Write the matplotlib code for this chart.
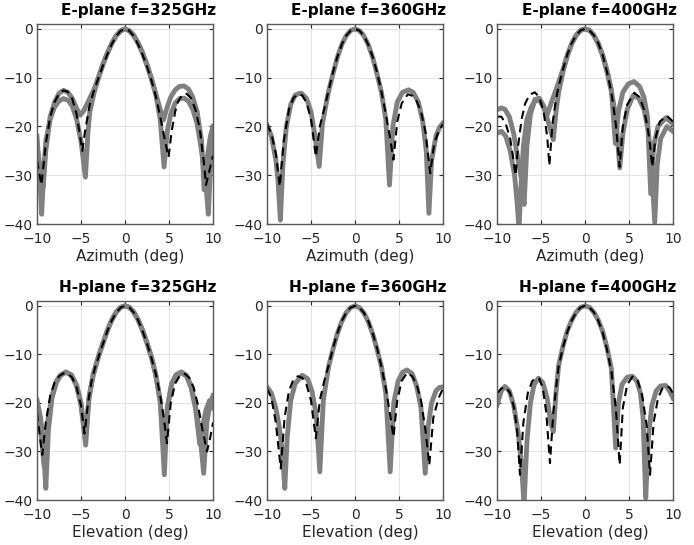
import numpy as np
import matplotlib
matplotlib.use('Agg')
import matplotlib.pyplot as plt

# ---- E-plane 325 GHz ----
e325_sim_ang = [-10, -9.5, -9, -8.5, -8, -7.5, -7, -6.5, -6, -5.5, -5.2, -4.85, -4.5, -4, -3.5, -3,
                -2.5, -2, -1.5, -1, -0.5, 0, 0.5, 1, 1.5, 2, 2.5, 3, 3.5, 4, 4.5, 4.95, 5.3, 5.7,
                6, 6.5, 7, 7.5, 8, 8.5, 9, 9.2, 9.6, 10]
e325_sim = [-27, -32, -23.5, -18, -15, -13.3, -12.6, -12.9, -14.3, -17.5, -21, -25, -20.5, -15.5,
            -12.5, -10, -7.5, -5.2, -3.1, -1.5, -0.4, 0, -0.4, -1.5, -3.2, -5.3, -7.7, -10.5, -13.8,
            -18, -22.5, -26.3, -21, -17, -15, -13.5, -13.3, -14.2, -16.5, -20.5, -28, -32, -29, -26]
e325_m1_ang = [-10, -9.7, -9.47, -9.2, -9, -8.5, -8, -7.5, -7, -6.5, -6, -5.5, -5, -4.5, -4.2, -4,
               -3.5, -3, -2.5, -2, -1.5, -1, -0.5, 0, 0.5, 1, 1.5, 2, 2.5, 3, 3.5, 4, 4.44, 4.8,
               5.2, 5.7, 6.2, 6.7, 7.2, 7.7, 8.2, 8.7, 9.2, 9.47, 9.7, 10]
e325_m1 = [-22, -30, -38, -28, -23, -18.5, -16, -14.8, -14.3, -14.6, -15.8, -18.5, -23, -30.4, -21,
           -17, -13, -10, -7.3, -5, -3, -1.4, -0.4, 0, -0.4, -1.3, -2.9, -4.9, -7.3, -10.2, -13.5,
           -18.5, -28.3, -21, -17.5, -15.2, -14.3, -14.2, -14.8, -16.5, -19.5, -25, -32, -38, -29, -22]
e325_m2_ang = [-10, -9.6, -9.3, -9, -8.5, -8, -7.5, -7, -6.5, -6, -5.5, -5.1, -4.7, -4.2, -3.5, -3,
               -2.5, -2, -1.5, -1, -0.5, 0, 0.5, 1, 1.5, 2, 2.5, 3, 3.5, 4, 4.36, 4.8, 5.2, 5.7,
               6.2, 6.7, 7.2, 7.7, 8.2, 8.7, 9.0, 9.3, 9.7, 10]
e325_m2 = [-24, -29, -32.5, -25, -18, -15, -13.2, -12.6, -13, -14.2, -16.3, -17.7, -16.8, -15,
           -12.3, -9.8, -7.2, -4.9, -3, -1.4, -0.4, 0, -0.4, -1.4, -3, -5, -7.5, -10.2, -13.3,
           -16.5, -18.7, -16, -14, -12.5, -11.8, -11.7, -12.3, -14, -17, -23, -33, -27, -22, -20]

# ---- E-plane 360 GHz ----
e360_sim_ang = [-10, -9.5, -9, -8.55, -8.1, -7.5, -7, -6.5, -6, -5.5, -5, -4.45, -4, -3.5, -3, -2.5,
                -2, -1.5, -1, -0.5, 0, 0.5, 1, 1.5, 2, 2.5, 3, 3.5, 4, 4.37, 4.8, 5.3, 6, 6.5, 7,
                7.5, 8, 8.55, 9, 9.5, 10]
e360_sim = [-19.5, -21.5, -25.5, -32.3, -23, -16.5, -14.2, -13.4, -13.6, -15.2, -18.5, -26.2, -20,
            -16.5, -12.6, -8.9, -5.7, -3.2, -1.4, -0.35, 0, -0.35, -1.4, -3.2, -5.7, -8.9, -12.8,
            -17.5, -22.5, -26.8, -19, -15.3, -13.4, -13.7, -14.8, -17, -21, -29.6, -23.5, -21, -19.5]
e360_m1_ang = [-10, -9.5, -9, -8.75, -8.48, -8.2, -7.8, -7.3, -6.8, -6.3, -6.08, -5.5, -5, -4.5,
               -4.07, -3.7, -3.3, -3, -2.5, -2, -1.5, -1, -0.5, 0, 0.5, 1, 1.5, 2, 2.5, 3, 3.5,
               3.92, 4.3, 4.8, 5.4, 6.08, 6.6, 7.2, 7.7, 8.1, 8.4, 8.7, 9.2, 9.6, 10]
e360_m1 = [-19.7, -22, -26.8, -31, -39.2, -28, -20, -15.5, -13.6, -13.2, -13.2, -14.3, -17, -22.5,
           -28.2, -19.5, -15.5, -12.8, -9.2, -5.8, -3.2, -1.4, -0.35, 0, -0.35, -1.4, -3.2, -5.8,
           -9.2, -13, -18.5, -32, -20, -15, -13, -12.5, -13, -15, -19, -25, -37.8, -27, -22,
           -20.2, -19.3]

# ---- E-plane 400 GHz ----
e400_sim_ang = [-10, -9.5, -9, -8.5, -8.2, -7.9, -7.6, -7.2, -6.8, -6.3, -5.7, -5.2, -4.7, -4.3,
                -4.05, -3.7, -3.3, -3, -2.5, -2, -1.5, -1, -0.5, 0, 0.5, 1, 1.5, 2, 2.5, 3, 3.5,
                3.94, 4.3, 4.8, 5.6, 6.2, 6.7, 7.1, 7.4, 7.65, 8, 8.5, 9.3, 10]
e400_sim = [-18, -18, -19.5, -22.5, -26, -30, -24, -18.5, -15.3, -13.5, -13, -14, -17, -22, -28,
            -19.5, -14.5, -11.8, -8.3, -5.2, -2.9, -1.3, -0.3, 0, -0.3, -1.3, -2.9, -5.3, -8.8,
            -13, -19.5, -28.3, -20, -15.5, -13.1, -14, -16.5, -20, -24, -28.3, -22.5, -19, -17.8, -19]
e400_m1_ang = [-10, -9.5, -9, -8.5, -8, -7.7, -7.5, -7.3, -7.0, -6.6, -6.1, -5.6, -5.1, -4.6, -4.1,
               -3.6, -3.3, -3, -2.5, -2, -1.5, -1, -0.5, 0, 0.5, 1, 1.5, 2, 2.5, 3, 3.5, 3.95,
               4.3, 4.8, 5.5, 6.1, 6.7, 7.2, 7.6, 7.92, 8.2, 8.6, 9.3, 10]
e400_m1 = [-21.4, -21, -22, -25, -30, -36, -41, -33, -24, -18.5, -16, -14.6, -14.8, -16.5, -19.5,
           -22.7, -17, -13, -8.8, -5.5, -3, -1.3, -0.3, 0, -0.3, -1.3, -3, -5.5, -8.8, -12.8, -18,
           -28.5, -21.5, -16.5, -13.6, -14.2, -16.5, -21, -29, -39.7, -28, -22.5, -20, -21]
e400_m2_ang = [-10, -9.5, -9.1, -8.6, -8.1, -7.6, -7.2, -6.92, -6.6, -6.2, -5.7, -5.2, -4.7, -4.3,
               -3.9, -3.5, -3, -2.5, -2, -1.5, -1, -0.5, 0, 0.5, 1, 1.5, 2, 2.5, 3, 3.45, 3.8,
               4.3, 4.9, 5.57, 6.2, 6.7, 7.1, 7.47, 7.8, 8.3, 9.2, 10]
e400_m2 = [-16.6, -16.2, -16.5, -18, -21.5, -27, -31, -36, -24, -17.5, -14.5, -14.2, -15.8, -17.6,
           -15.5, -13.5, -11, -8.3, -5.3, -3, -1.3, -0.3, 0, -0.3, -1.3, -3, -5.3, -8.5, -12.5,
           -23.5, -17, -13, -11.3, -10.8, -11.8, -14, -18, -33.8, -24, -20, -18.2, -19.5]

# ---- H-plane 325 GHz ----
h325_sim_ang = [-10, -9.7, -9.4, -9.0, -8.5, -8, -7.5, -7, -6.5, -6, -5.5, -5.0, -4.6, -4.2, -3.8,
                -3.4, -3, -2.5, -2, -1.5, -1, -0.5, 0, 0.5, 1, 1.5, 2, 2.5, 3, 3.5, 4, 4.4, 4.77,
                5.2, 5.7, 6.3, 6.8, 7.3, 7.8, 8.3, 8.8, 9.32, 9.7, 10]
h325_sim = [-22, -26.5, -30.7, -24, -18.5, -15.8, -14.5, -13.9, -14, -14.8, -16.8, -20.5, -26.3,
            -20, -15.5, -12.7, -10.5, -7.8, -5.2, -3, -1.4, -0.35, 0, -0.35, -1.4, -3, -5.2, -7.8,
            -10.7, -14, -18.5, -23, -28.3, -20, -16, -14.2, -14, -14.8, -16.8, -20.5, -25.5, -30,
            -27, -24]
h325_m1_ang = [-10, -9.6, -9.3, -9.0, -8.7, -8.3, -7.8, -7.3, -6.7, -6.1, -5.5, -5.0, -4.47, -4.1,
               -3.6, -3, -2.5, -2, -1.5, -1, -0.5, 0, 0.5, 1, 1.5, 2, 2.5, 3, 3.5, 4, 4.47, 4.8,
               5.3, 5.8, 6.4, 7, 7.5, 8, 8.5, 8.94, 9.3, 9.7, 10]
h325_m1 = [-19.4, -23, -28, -37.6, -25.5, -19, -15.8, -14.3, -13.6, -14.2, -16.5, -20.5, -28.7,
           -19, -14, -10.3, -7.6, -5, -2.9, -1.3, -0.3, 0, -0.3, -1.3, -2.9, -5, -7.6, -10.5,
           -14.2, -19.5, -34.8, -21, -16, -14.2, -13.6, -14.3, -16.5, -20.5, -26, -34.5, -24,
           -20, -18.5]
h325_m2_ang = [-10, -9.6, -9.2, -8.8, -8.3, -7.8, -7.3, -6.7, -6.1, -5.5, -5.0, -4.5, -4.1, -3.6,
               -3, -2.5, -2, -1.5, -1, -0.5, 0, 0.5, 1, 1.5, 2, 2.5, 3, 3.5, 4, 4.5, 4.8, 5.3,
               5.8, 6.4, 7, 7.5, 8, 8.5, 8.8, 9.2, 9.6, 10]
h325_m2 = [-21, -25, -33, -24, -18.5, -15.5, -14.2, -13.7, -14.3, -16.3, -20, -27, -19, -14.2,
           -10.4, -7.7, -5.1, -2.9, -1.3, -0.3, 0, -0.3, -1.3, -2.9, -5.1, -7.7, -10.6, -14.3,
           -19.8, -30, -21.5, -16.2, -14.3, -13.8, -14.5, -16.8, -21, -28.5, -25, -21.5, -19.5, -21]

# ---- H-plane 360 GHz ----
h360_sim_ang = [-10, -9.5, -9, -8.44, -8, -7.5, -7, -6.5, -6, -5.5, -5, -4.45, -4, -3.5, -3, -2.5,
                -2, -1.5, -1, -0.5, 0, 0.5, 1, 1.5, 2, 2.5, 3, 3.5, 4, 4.37, 4.8, 5.3, 5.9, 6.5, 7,
                7.5, 8, 8.44, 8.9, 9.5, 10]
h360_sim = [-17, -19, -24, -33.5, -23, -17.5, -15.2, -14.5, -14.8, -16.3, -19.5, -27.3, -19.5,
            -15.5, -12.3, -8.7, -5.6, -3.1, -1.4, -0.35, 0, -0.35, -1.4, -3.1, -5.6, -8.7, -12.5,
            -17, -22.5, -27, -19.5, -15.5, -13.8, -14.5, -16.2, -19.5, -25.5, -32.8, -23, -19, -17]
h360_m1_ang = [-10, -9.5, -9, -8.6, -8.25, -7.98, -7.7, -7.3, -6.8, -6.0, -5.4, -4.9, -4.4, -4.0,
               -3.6, -3, -2.5, -2, -1.5, -1, -0.5, 0, 0.5, 1, 1.5, 2, 2.5, 3, 3.5, 4.0, 4.4, 4.9,
               5.4, 5.9, 6.5, 7, 7.5, 7.98, 8.3, 8.7, 9.2, 9.6, 10]
h360_m1 = [-16.7, -18, -21, -25, -30, -37.6, -27, -19.5, -16, -14.3, -15, -17.5, -22.5, -34.2,
           -19.5, -12.5, -8.9, -5.7, -3.2, -1.4, -0.35, 0, -0.35, -1.4, -3.2, -5.7, -8.9, -12.5,
           -18, -34.2, -20, -15.5, -13.7, -13.2, -14, -16.5, -21, -34.5, -25, -20, -17.5, -16.8,
           -16.7]

# ---- H-plane 400 GHz ----
h400_sim_ang = [-10, -9.5, -9, -8.5, -8, -7.7, -7.39, -7, -6.5, -6, -5.5, -5.2, -4.8, -4.4, -3.98,
                -3.6, -3.2, -3, -2.5, -2, -1.5, -1, -0.5, 0, 0.5, 1, 1.5, 2, 2.5, 3, 3.5, 3.94,
                4.3, 4.8, 5.4, 6, 6.5, 7, 7.39, 7.8, 8.3, 8.8, 9.2, 9.6, 10]
h400_sim = [-18, -17, -16.8, -18, -21.5, -26, -34.8, -24, -18, -15.5, -14.8, -15, -17, -22, -32.4,
            -22, -15.5, -12.5, -8.5, -5.3, -3, -1.3, -0.3, 0, -0.3, -1.3, -3, -5.5, -9, -13.5, -21,
            -32.7, -21, -16.2, -14.6, -15.5, -18.5, -24.5, -34.8, -24, -19, -17, -16.5, -16.8, -18]
h400_m1_ang = [-10, -9.5, -9.1, -8.6, -8.1, -7.6, -7.2, -6.93, -6.6, -6.2, -5.8, -5.3, -4.8, -4.3,
               -3.9, -3.6, -3.3, -3, -2.5, -2, -1.5, -1, -0.5, 0, 0.5, 1, 1.5, 2, 2.5, 3, 3.49,
               3.8, 4.2, 4.8, 5.38, 5.9, 6.3, 6.6, 6.9, 7.2, 7.6, 8.1, 8.6, 9.17, 9.6, 10]
h400_m1 = [-20.5, -17.5, -16.6, -17.5, -20.5, -26, -33, -41, -28, -20, -16.3, -14.9, -15.8, -19,
           -24, -25.9, -18, -12.3, -8.3, -5.1, -2.9, -1.3, -0.3, 0, -0.3, -1.3, -2.9, -5.2, -8.6,
           -13, -29.3, -20, -16.2, -14.7, -14.5, -15.5, -18, -23, -39.6, -27, -20.5, -17.5, -16.5,
           -16.4, -17.5, -19]

panels = [
    ('E-plane f=325GHz', 'Azimuth (deg)', e325_sim_ang, e325_sim,
     [(e325_m1_ang, e325_m1), (e325_m2_ang, e325_m2)]),
    ('E-plane f=360GHz', 'Azimuth (deg)', e360_sim_ang, e360_sim,
     [(e360_m1_ang, e360_m1)]),
    ('E-plane f=400GHz', 'Azimuth (deg)', e400_sim_ang, e400_sim,
     [(e400_m1_ang, e400_m1), (e400_m2_ang, e400_m2)]),
    ('H-plane f=325GHz', 'Elevation (deg)', h325_sim_ang, h325_sim,
     [(h325_m1_ang, h325_m1), (h325_m2_ang, h325_m2)]),
    ('H-plane f=360GHz', 'Elevation (deg)', h360_sim_ang, h360_sim,
     [(h360_m1_ang, h360_m1)]),
    ('H-plane f=400GHz', 'Elevation (deg)', h400_sim_ang, h400_sim,
     [(h400_m1_ang, h400_m1)]),
]

fig = plt.figure(figsize=(6.94, 5.45), dpi=100)
W, H = 694.0, 545.0
lefts = [37, 267, 497]
rows = [(24, 224), (301, 500)]

for i, (title, xlab, sang, sval, meas) in enumerate(panels):
    r, c = divmod(i, 3)
    top, bot = rows[r]
    ax = fig.add_axes([lefts[c] / W, 1 - bot / H, 176 / W, (bot - top) / H])
    for mang, mval in meas:
        ax.plot(mang, mval, '-', color='#808080', lw=3.5, solid_joinstyle='round')
    ax.plot(sang, sval, '--', color='black', lw=1.5, dashes=(4, 2.5))
    ax.set_xlim(-10, 10)
    ax.set_ylim(-40, 1)
    ax.set_xticks([-10, -5, 0, 5, 10])
    ax.set_yticks([-40, -30, -20, -10, 0])
    ax.grid(True, color='#e3e3e3', lw=0.8)
    ax.set_axisbelow(True)
    ax.tick_params(direction='in', length=3, top=True, right=True,
                   labelsize=10, colors='#262626')
    ax.tick_params(axis='x', pad=6)
    ax.tick_params(axis='y', pad=3)
    for s in ax.spines.values():
        s.set_color('#5a5a5a')
        s.set_linewidth(1.0)
    ax.set_xlabel(xlab, fontsize=11, color='#262626')
    ax.xaxis.set_label_coords(0.53, -0.125)
    ax.text(1.02, 1.03, title, transform=ax.transAxes, ha='right', va='bottom',
            fontsize=11, fontweight='bold')

fig.savefig('out.png', dpi=100)
